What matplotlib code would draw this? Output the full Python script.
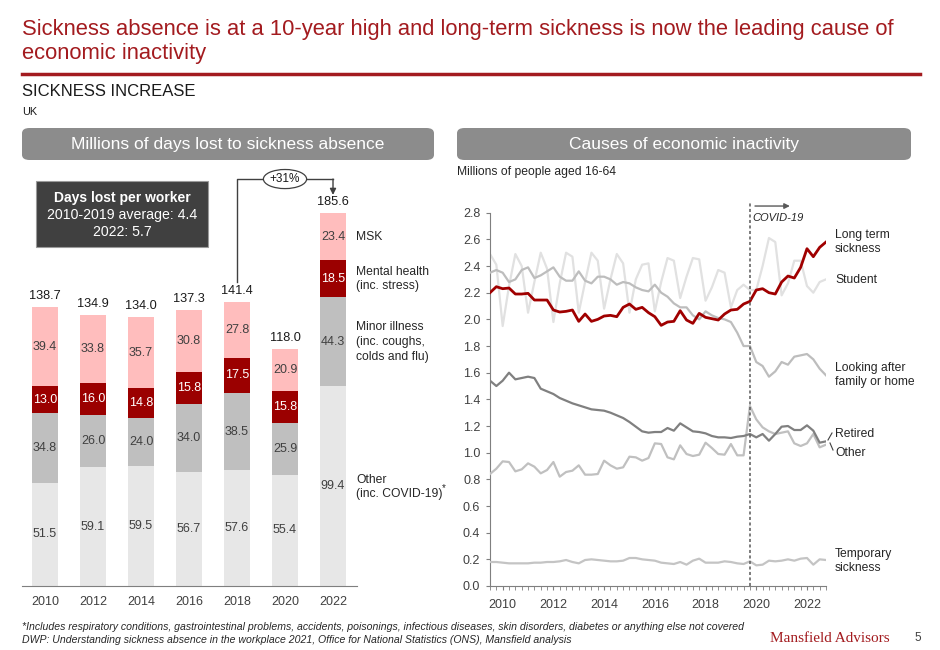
import numpy as np
import matplotlib
matplotlib.use("Agg")
import matplotlib.pyplot as plt
from matplotlib.patches import FancyBboxPatch, Ellipse, Rectangle
from matplotlib.lines import Line2D

plt.rcParams['font.family'] = ['Liberation Sans', 'DejaVu Sans']

# ---------------- data: bar chart ----------------
bar_years = ["2010", "2012", "2014", "2016", "2018", "2020", "2022"]
other_days = [51.5, 59.1, 59.5, 56.7, 57.6, 55.4, 99.4]
minor_days = [34.8, 26.0, 24.0, 34.0, 38.5, 25.9, 44.3]
mental_days = [13.0, 16.0, 14.8, 15.8, 17.5, 15.8, 18.5]
msk_days = [39.4, 33.8, 35.7, 30.8, 27.8, 20.9, 23.4]
total_days = [138.7, 134.9, 134.0, 137.3, 141.4, 118.0, 185.6]

# ---------------- data: line chart (quarterly, 2009 Q3 - 2022 Q4) -------------
long_term = [2.20, 2.245, 2.23, 2.235, 2.19, 2.19, 2.195, 2.145, 2.145, 2.145,
             2.07, 2.055, 2.06, 2.07, 1.985, 2.04, 1.985, 2.00, 2.025, 2.03,
             2.02, 2.09, 2.115, 2.075, 2.09, 2.05, 2.02, 1.955, 1.98, 1.985,
             2.065, 1.995, 1.97, 2.045, 2.015, 2.005, 1.995, 2.04, 2.07, 2.075,
             2.115, 2.135, 2.22, 2.23, 2.20, 2.19, 2.28, 2.325, 2.31, 2.39,
             2.53, 2.47, 2.54, 2.58]
student = [2.49, 2.41, 1.95, 2.25, 2.49, 2.40, 2.05, 2.28, 2.50, 2.38,
           1.98, 2.27, 2.50, 2.47, 2.05, 2.28, 2.50, 2.44, 2.08, 2.30,
           2.49, 2.42, 2.05, 2.30, 2.41, 2.42, 2.06, 2.28, 2.46, 2.44,
           2.16, 2.32, 2.46, 2.45, 2.14, 2.24, 2.37, 2.35, 2.09, 2.22,
           2.26, 2.22, 2.22, 2.40, 2.61, 2.58, 2.18, 2.27, 2.44, 2.44,
           2.25, 2.20, 2.28, 2.30]
looking_after = [2.35, 2.37, 2.35, 2.28, 2.30, 2.37, 2.39, 2.31, 2.33, 2.36,
                 2.39, 2.32, 2.29, 2.29, 2.36, 2.29, 2.27, 2.32, 2.32, 2.30,
                 2.26, 2.28, 2.27, 2.24, 2.22, 2.21, 2.26, 2.20, 2.17, 2.12,
                 2.09, 2.09, 2.03, 2.00, 2.06, 2.03, 2.01, 2.00, 1.98, 1.90,
                 1.80, 1.80, 1.68, 1.65, 1.57, 1.61, 1.68, 1.66, 1.72, 1.73,
                 1.74, 1.70, 1.63, 1.58]
retired = [1.54, 1.50, 1.54, 1.60, 1.55, 1.56, 1.57, 1.56, 1.48, 1.46,
           1.44, 1.41, 1.39, 1.37, 1.355, 1.34, 1.325, 1.32, 1.315, 1.30,
           1.28, 1.26, 1.23, 1.195, 1.16, 1.15, 1.155, 1.155, 1.185, 1.165,
           1.22, 1.19, 1.16, 1.155, 1.145, 1.125, 1.115, 1.115, 1.11, 1.12,
           1.125, 1.14, 1.115, 1.14, 1.09, 1.14, 1.195, 1.20, 1.17, 1.17,
           1.205, 1.165, 1.075, 1.085]
other_inact = [0.84, 0.88, 0.935, 0.93, 0.86, 0.875, 0.92, 0.895, 0.845, 0.87,
               0.93, 0.82, 0.855, 0.865, 0.905, 0.835, 0.835, 0.84, 0.94, 0.905,
               0.88, 0.89, 0.97, 0.965, 0.94, 0.96, 1.07, 1.065, 0.965, 0.95,
               1.055, 0.99, 0.975, 0.985, 1.075, 1.035, 0.99, 0.985, 1.065, 0.98,
               0.98, 1.35, 1.25, 1.19, 1.16, 1.14, 1.15, 1.16, 1.07, 1.05,
               1.07, 1.14, 1.04, 1.06]
temporary = [0.18, 0.18, 0.175, 0.17, 0.17, 0.17, 0.17, 0.175, 0.175, 0.18,
             0.18, 0.185, 0.195, 0.18, 0.17, 0.195, 0.20, 0.195, 0.19, 0.185,
             0.185, 0.19, 0.21, 0.21, 0.20, 0.195, 0.19, 0.175, 0.17, 0.165,
             0.18, 0.16, 0.19, 0.205, 0.175, 0.175, 0.175, 0.185, 0.18, 0.17,
             0.165, 0.185, 0.155, 0.16, 0.19, 0.185, 0.19, 0.20, 0.19, 0.205,
             0.21, 0.16, 0.20, 0.195]
line_year_labels = ["2010", "2012", "2014", "2016", "2018", "2020", "2022"]
covid_quarter = 41  # index of 2019 Q4

# ---------------- figure ----------------
W, H = 940, 650
fig = plt.figure(figsize=(W / 100, H / 100), dpi=100)
fig.patch.set_facecolor('white')

def fx(px):
    return px / W

def fy(py):
    return 1 - py / H

RED = '#a31b1f'
TXT = '#404040'

# title
fig.text(fx(22), fy(30), "Sickness absence is at a 10-year high and long-term sickness is now the leading cause of",
         color=RED, fontsize=15.8, va='center', ha='left')
fig.text(fx(22), fy(54), "economic inactivity", color=RED, fontsize=15.8, va='center', ha='left')
fig.add_artist(Line2D([fx(22), fx(920)], [fy(74), fy(74)], color=RED, lw=2.5,
                      transform=fig.transFigure))
fig.text(fx(22), fy(91), "SICKNESS INCREASE", color='#1a1a1a', fontsize=12, va='center', ha='left')
fig.text(fx(22), fy(112), "UK", color='#1a1a1a', fontsize=7.8, va='center', ha='left')

# header boxes
for (x0, x1, label) in [(22, 434, "Millions of days lost to sickness absence"),
                        (457, 911, "Causes of economic inactivity")]:
    box = FancyBboxPatch((fx(x0), fy(160)), fx(x1) - fx(x0), fy(128) - fy(160),
                         boxstyle="round,pad=0,rounding_size=0.008",
                         transform=fig.transFigure, facecolor='#8c8c8c', edgecolor='none')
    fig.add_artist(box)
    fig.text(fx((x0 + x1) / 2), fy(145), label, color='white', fontsize=12.5,
             va='center', ha='center')

fig.text(fx(457), fy(172), "Millions of people aged 16-64", color='#262626', fontsize=8.7,
         va='center', ha='left')

# ---------------- bar chart ----------------
ax1 = fig.add_axes([fx(22), fy(586), fx(357) - fx(22), fy(170) - fy(586)])
xpos = np.arange(len(bar_years))
ax1.set_xlim(-0.48, 6.5)
ax1.set_ylim(0, 207)
bw = 0.56
layers = [(other_days, '#e7e7e7', TXT),
          (minor_days, '#bfbfbf', TXT),
          (mental_days, '#9b0000', 'white'),
          (msk_days, '#ffbdbd', TXT)]
bottom = np.zeros(len(bar_years))
for vals, col, tcol in layers:
    vals = np.array(vals)
    ax1.bar(xpos, vals, bw, bottom=bottom, color=col, edgecolor='none')
    for xi, b, v in zip(xpos, bottom, vals):
        ax1.text(xi, b + v / 2, f"{v:.1f}", ha='center', va='center', fontsize=9, color=tcol)
    bottom = bottom + vals
for xi, t in zip(xpos, total_days):
    ax1.text(xi, t + 2.5, f"{t:.1f}", ha='center', va='bottom', fontsize=9.2, color='#1a1a1a')

for s in ['top', 'right', 'left']:
    ax1.spines[s].set_visible(False)
ax1.spines['bottom'].set_color('#7f7f7f')
ax1.set_yticks([])
ax1.set_xticks(xpos)
ax1.set_xticklabels(bar_years, fontsize=9, color=TXT)
ax1.tick_params(axis='x', length=0, pad=7)

# +31% bracket
y_start = total_days[4] + 10
y_top = 202.5
ax1.plot([xpos[4], xpos[4], xpos[6]], [y_start, y_top, y_top], color=TXT, lw=1, clip_on=False)
ax1.annotate("", xy=(xpos[6], total_days[6] + 9), xytext=(xpos[6], y_top),
             arrowprops=dict(arrowstyle='-|>', color=TXT, lw=1, mutation_scale=9,
                             shrinkA=0, shrinkB=0), annotation_clip=False)
ax1.add_patch(Ellipse((xpos[5], y_top), 0.9, 9.5, facecolor='white', edgecolor=TXT, lw=0.9,
                      clip_on=False, zorder=5))
ax1.text(xpos[5], y_top, "+31%", ha='center', va='center', fontsize=8.5, color='#1a1a1a', zorder=6)

# dark info box
fig.add_artist(Rectangle((fx(36), fy(247)), fx(208) - fx(36), fy(181) - fy(247),
                         transform=fig.transFigure, facecolor='#404040', edgecolor='#9a9a9a', lw=0.8))
fig.text(fx(122), fy(198), "Days lost per worker", color='white', fontsize=10, fontweight='bold',
         ha='center', va='center')
fig.text(fx(122), fy(215), "2010-2019 average: 4.4", color='white', fontsize=10.2,
         ha='center', va='center')
fig.text(fx(122), fy(232), "2022: 5.7", color='white', fontsize=10.2, ha='center', va='center')

# bar legend labels
for ytxt, lab in [(237, "MSK"), (279, "Mental health\n(inc. stress)"),
                  (342, "Minor illness\n(inc. coughs,\ncolds and flu)"),
                  (487, "Other\n(inc. COVID-19)")]:
    fig.text(fx(356), fy(ytxt), lab, color='#262626', fontsize=8.7, ha='left', va='center',
             linespacing=1.3)
fig.text(fx(441.5), fy(488), "*", color='#262626', fontsize=7, ha='left', va='center')

# ---------------- line chart ----------------
ax2 = fig.add_axes([fx(490), fy(586), fx(826) - fx(490), fy(212.7) - fy(586)])
xq = np.arange(len(long_term))
ax2.plot(np.arange(len(student)), student, color='#e1e1e1', lw=1.6, zorder=2)
ax2.plot(np.arange(len(looking_after)), looking_after, color='#bdbdbd', lw=1.6, zorder=3)
ax2.plot(np.arange(len(other_inact)), other_inact, color='#c0c0c0', lw=1.6, zorder=3)
ax2.plot(np.arange(len(temporary)), temporary, color='#c4c4c4', lw=1.6, zorder=3)
ax2.plot(np.arange(len(retired)), retired, color='#808080', lw=1.6, zorder=4)
ax2.plot(xq, long_term, color='#a00000', lw=2.0, zorder=5)

ax2.set_xlim(0, len(long_term) - 1)
ax2.set_ylim(0, 2.8)
ax2.set_yticks(np.arange(0, 2.81, 0.2))
ax2.set_yticklabels([f"{v:.1f}" for v in np.arange(0, 2.81, 0.2)], fontsize=9, color=TXT)
ax2.set_xticks([2 + 8 * k for k in range(len(line_year_labels))])
ax2.set_xticklabels(line_year_labels, fontsize=9, color=TXT)
ax2.set_xticks(np.arange(len(long_term)), minor=True)
ax2.tick_params(axis='x', which='major', length=3, color='#7f7f7f', pad=6)
ax2.tick_params(axis='x', which='minor', length=3, color='#7f7f7f')
ax2.tick_params(axis='y', length=3, color='#7f7f7f', pad=4)
for s in ['top', 'right']:
    ax2.spines[s].set_visible(False)
for s in ['left', 'bottom']:
    ax2.spines[s].set_color('#7f7f7f')

# COVID marker
ax2.axvline(covid_quarter, ymin=0, ymax=2.87 / 2.8, color='#595959', lw=1.1,
            ls=(0, (2, 1.6)), clip_on=False, zorder=6)
ax2.annotate("", xy=(47.3, 2.85), xytext=(41.8, 2.85),
             arrowprops=dict(arrowstyle='-|>', color='#595959', lw=1, mutation_scale=8,
                             shrinkA=0, shrinkB=0), annotation_clip=False)
ax2.text(41.4, 2.76, "COVID-19", fontsize=8, fontstyle='italic', color='#262626',
         ha='left', va='center')

for ytxt, lab in [(242, "Long term\nsickness"), (280, "Student"),
                  (375, "Looking after\nfamily or home"), (434, "Retired"),
                  (453, "Other"), (561, "Temporary\nsickness")]:
    fig.text(fx(835), fy(ytxt), lab, color='#262626', fontsize=8.7, ha='left', va='center',
             linespacing=1.3)
fig.add_artist(Line2D([fx(828), fx(832)], [fy(440), fy(433)], color='#404040', lw=0.8,
                      transform=fig.transFigure))
fig.add_artist(Line2D([fx(830), fx(833)], [fy(443), fy(450)], color='#404040', lw=0.8,
                      transform=fig.transFigure))

# ---------------- footer ----------------
fig.text(fx(22), fy(627), "*Includes respiratory conditions, gastrointestinal problems, accidents, poisonings, "
         "infectious diseases, skin disorders, diabetes or anything else not covered",
         fontsize=7.6, fontstyle='italic', color='#262626', ha='left', va='center')
fig.text(fx(22), fy(640), "DWP: Understanding sickness absence in the workplace 2021, Office for National "
         "Statistics (ONS), Mansfield analysis",
         fontsize=7.6, fontstyle='italic', color='#262626', ha='left', va='center')
fig.text(fx(770), fy(638), "Mansfield Advisors", fontsize=11, color='#a31b1f',
         family=['Liberation Serif', 'DejaVu Serif'], ha='left', va='center')
fig.text(fx(918), fy(638), "5", fontsize=8.5, color='#404040', ha='center', va='center')

fig.savefig("out.png", dpi=100)
